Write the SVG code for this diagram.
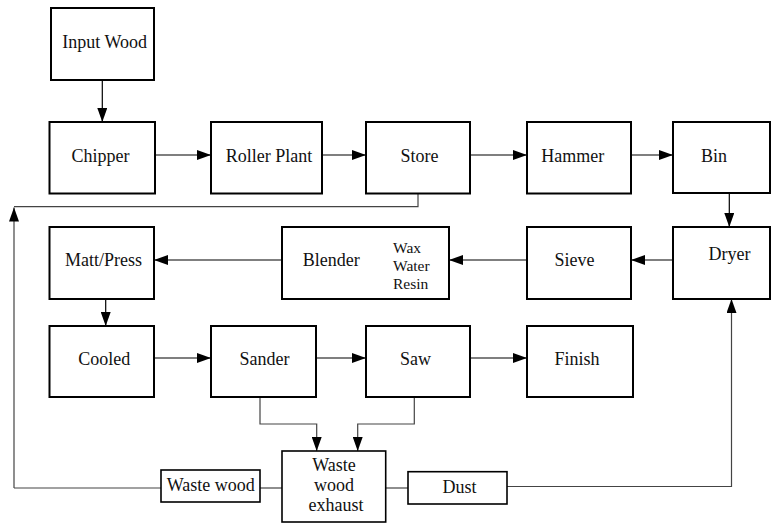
<svg xmlns="http://www.w3.org/2000/svg" width="771" height="525" viewBox="0 0 771 525">
<defs>
<style>
.box{fill:#fff;stroke:#000;stroke-width:2}
.sbox{fill:#fff;stroke:#000;stroke-width:1.6}
.t{font-size:18px;fill:#111;text-anchor:middle}
.s{font-size:15.5px;fill:#111}
.c{fill:none;stroke:#000;stroke-width:1.2}
.g{fill:none;stroke:#444;stroke-width:1.2}
</style>
<marker id="ah" markerWidth="15" markerHeight="10" refX="14" refY="5" orient="auto" markerUnits="userSpaceOnUse">
<path d="M0,0 L14,5 L0,10 Z" fill="#000"/>
</marker>
</defs>
<g id="connectors">
<line class="c" x1="102.3" y1="80" x2="102.3" y2="122" marker-end="url(#ah)"/>
<line class="c" x1="155" y1="155" x2="211" y2="155" marker-end="url(#ah)"/>
<line class="c" x1="322" y1="155" x2="366" y2="155" marker-end="url(#ah)"/>
<line class="c" x1="470" y1="155" x2="527" y2="155" marker-end="url(#ah)"/>
<line class="c" x1="631" y1="155" x2="673" y2="155" marker-end="url(#ah)"/>
<line class="c" x1="729.3" y1="193" x2="729.3" y2="227" marker-end="url(#ah)"/>
<line class="c" x1="673" y1="260" x2="631" y2="260" marker-end="url(#ah)"/>
<line class="c" x1="527" y1="260" x2="449" y2="260" marker-end="url(#ah)"/>
<line class="c" x1="282" y1="260" x2="154" y2="260" marker-end="url(#ah)"/>
<line class="c" x1="105.7" y1="299" x2="105.7" y2="326" marker-end="url(#ah)"/>
<line class="c" x1="154" y1="358" x2="211" y2="358" marker-end="url(#ah)"/>
<line class="c" x1="316" y1="358" x2="366" y2="358" marker-end="url(#ah)"/>
<line class="c" x1="470" y1="358" x2="527" y2="358" marker-end="url(#ah)"/>
<path class="g" d="M418,193 V206.7 H14"/>
<path class="g" d="M14,488 V207.5" marker-end="url(#ah)"/>
<path class="g" d="M14,488 H161"/>
<path class="g" d="M260,488 H282"/>
<path class="g" d="M386,488 H408"/>
<path class="g" d="M507,486.5 H731.5 V299" marker-end="url(#ah)"/>
<path class="g" d="M260,397 V424 H316.7 V451" marker-end="url(#ah)"/>
<path class="g" d="M414.3,397 V424 H357.7 V451" marker-end="url(#ah)"/>
</g>
<g font-family="Liberation Serif, Tinos, DejaVu Serif, serif">
<g id="input-wood"><rect class="box" x="51" y="8" width="103" height="72"/><text class="t" x="104.7" y="48">Input Wood</text></g>
<g id="chipper"><rect class="box" x="49.5" y="122" width="105.5" height="71.5"/><text class="t" x="100.5" y="161.7">Chipper</text></g>
<g id="roller-plant"><rect class="box" x="211" y="122" width="111" height="71.5"/><text class="t" x="269" y="161.7">Roller Plant</text></g>
<g id="store"><rect class="box" x="366" y="122" width="104" height="71.5"/><text class="t" x="419.5" y="161.7">Store</text></g>
<g id="hammer"><rect class="box" x="527" y="122" width="104" height="71.5"/><text class="t" x="572.7" y="161.7">Hammer</text></g>
<g id="bin"><rect class="box" x="673" y="122" width="97" height="71"/><text class="t" x="714" y="161.7">Bin</text></g>
<g id="matt-press"><rect class="box" x="49.5" y="227" width="104.5" height="72"/><text class="t" x="103.5" y="266">Matt/Press</text></g>
<g id="blender"><rect class="box" x="282" y="227" width="167" height="72"/><text class="t" x="331.3" y="266">Blender</text><text class="s" x="393" y="252.7">Wax</text><text class="s" x="393" y="271">Water</text><text class="s" x="393" y="289.3">Resin</text></g>
<g id="sieve"><rect class="box" x="527" y="227" width="104" height="72"/><text class="t" x="574.5" y="266">Sieve</text></g>
<g id="dryer"><rect class="box" x="673" y="227" width="97" height="72"/><text class="t" x="729.5" y="260">Dryer</text></g>
<g id="cooled"><rect class="box" x="49.5" y="326" width="104.5" height="71"/><text class="t" x="104.3" y="365">Cooled</text></g>
<g id="sander"><rect class="box" x="211" y="326" width="105" height="71"/><text class="t" x="264.5" y="365">Sander</text></g>
<g id="saw"><rect class="box" x="366" y="326" width="104" height="71"/><text class="t" x="415.5" y="365">Saw</text></g>
<g id="finish"><rect class="box" x="527" y="326" width="106" height="71"/><text class="t" x="577" y="365">Finish</text></g>
<g id="waste-wood-exhaust"><rect class="sbox" x="282" y="451" width="103.7" height="71"/><text class="t" x="334" y="470.7">Waste</text><text class="t" x="334" y="491">wood</text><text class="t" x="336" y="511">exhaust</text></g>
<g id="waste-wood"><rect class="sbox" x="161" y="470" width="99" height="32"/><text class="t" x="210.7" y="491">Waste wood</text></g>
<g id="dust"><rect class="sbox" x="408" y="471.7" width="99" height="32.3"/><text class="t" x="459.5" y="492.7">Dust</text></g>
</g>
</svg>
